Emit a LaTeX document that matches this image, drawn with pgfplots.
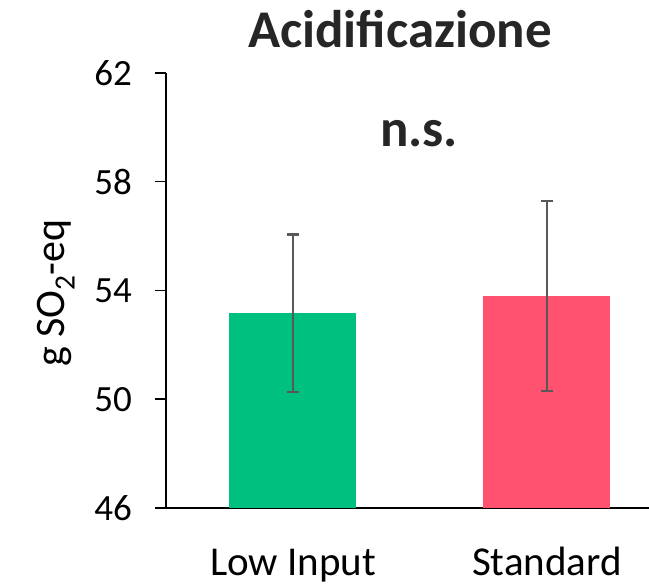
\documentclass[border=0pt]{standalone}
\usepackage{pgfplots}
\pgfplotsset{compat=1.18}
\usepackage{fontspec}
\setmainfont{Carlito}
\definecolor{cgreen}{RGB}{0,192,128}
\definecolor{cred}{RGB}{255,82,112}
\definecolor{errgray}{RGB}{89,89,89}
\definecolor{titlegray}{RGB}{38,38,38}
\begin{document}
\begin{tikzpicture}
\useasboundingbox (0,0) rectangle (649pt,587pt);
\begin{axis}[
  at={(166pt,79pt)}, anchor=south west,
  scale only axis, width=483pt, height=435pt,
  xmin=-0.5, xmax=1.4016, ymin=46, ymax=62,
  ytick={46,50,54,58,62},
  xtick={0,1}, xticklabels={Low Input, Standard},
  axis lines*=left,
  axis line style={line width=1.5pt, black},
  tick align=outside, major tick length=11pt,
  xtick style={draw=none},
  ytick style={line width=1.5pt, black},
  ybar, bar width=127pt, bar shift=0pt,
  /pgf/number format/assume math mode=true,
  yticklabel style={font=\fontsize{37}{44}\selectfont, anchor=east, inner sep=0pt, xshift=-23pt},
  xticklabel style={font=\fontsize{41}{48}\selectfont, anchor=base, inner sep=0pt, yshift=-56pt},
  every axis y label/.style={at={(axis description cs:-0.211,0.494)}, anchor=base, rotate=90, font=\fontsize{42}{50}\selectfont},
  ylabel={g SO\textsubscript{2}-eq},
  every axis title/.style={at={(axis description cs:0.4845,1.0575)}, anchor=base, font=\fontsize{53}{60}\selectfont\bfseries, text=titlegray},
  title={Acidificazione},
]
\addplot[ybar, fill=cgreen, draw=none,
  error bars/.cd, y dir=both, y explicit,
  error bar style={line width=2.5pt, errgray},
  error mark options={rotate=90, mark size=6pt, line width=2.5pt, errgray}]
  coordinates {(0,53.16) +- (0,2.9)};
\addplot[ybar, fill=cred, draw=none,
  error bars/.cd, y dir=both, y explicit,
  error bar style={line width=2.5pt, errgray},
  error mark options={rotate=90, mark size=6pt, line width=2.5pt, errgray}]
  coordinates {(1,53.80) +- (0,3.5)};
\node[anchor=base, font=\fontsize{53}{60}\selectfont\bfseries, text=titlegray] at (axis description cs:0.5238,0.830) {n.s.};
\end{axis}
\end{tikzpicture}
\end{document}
